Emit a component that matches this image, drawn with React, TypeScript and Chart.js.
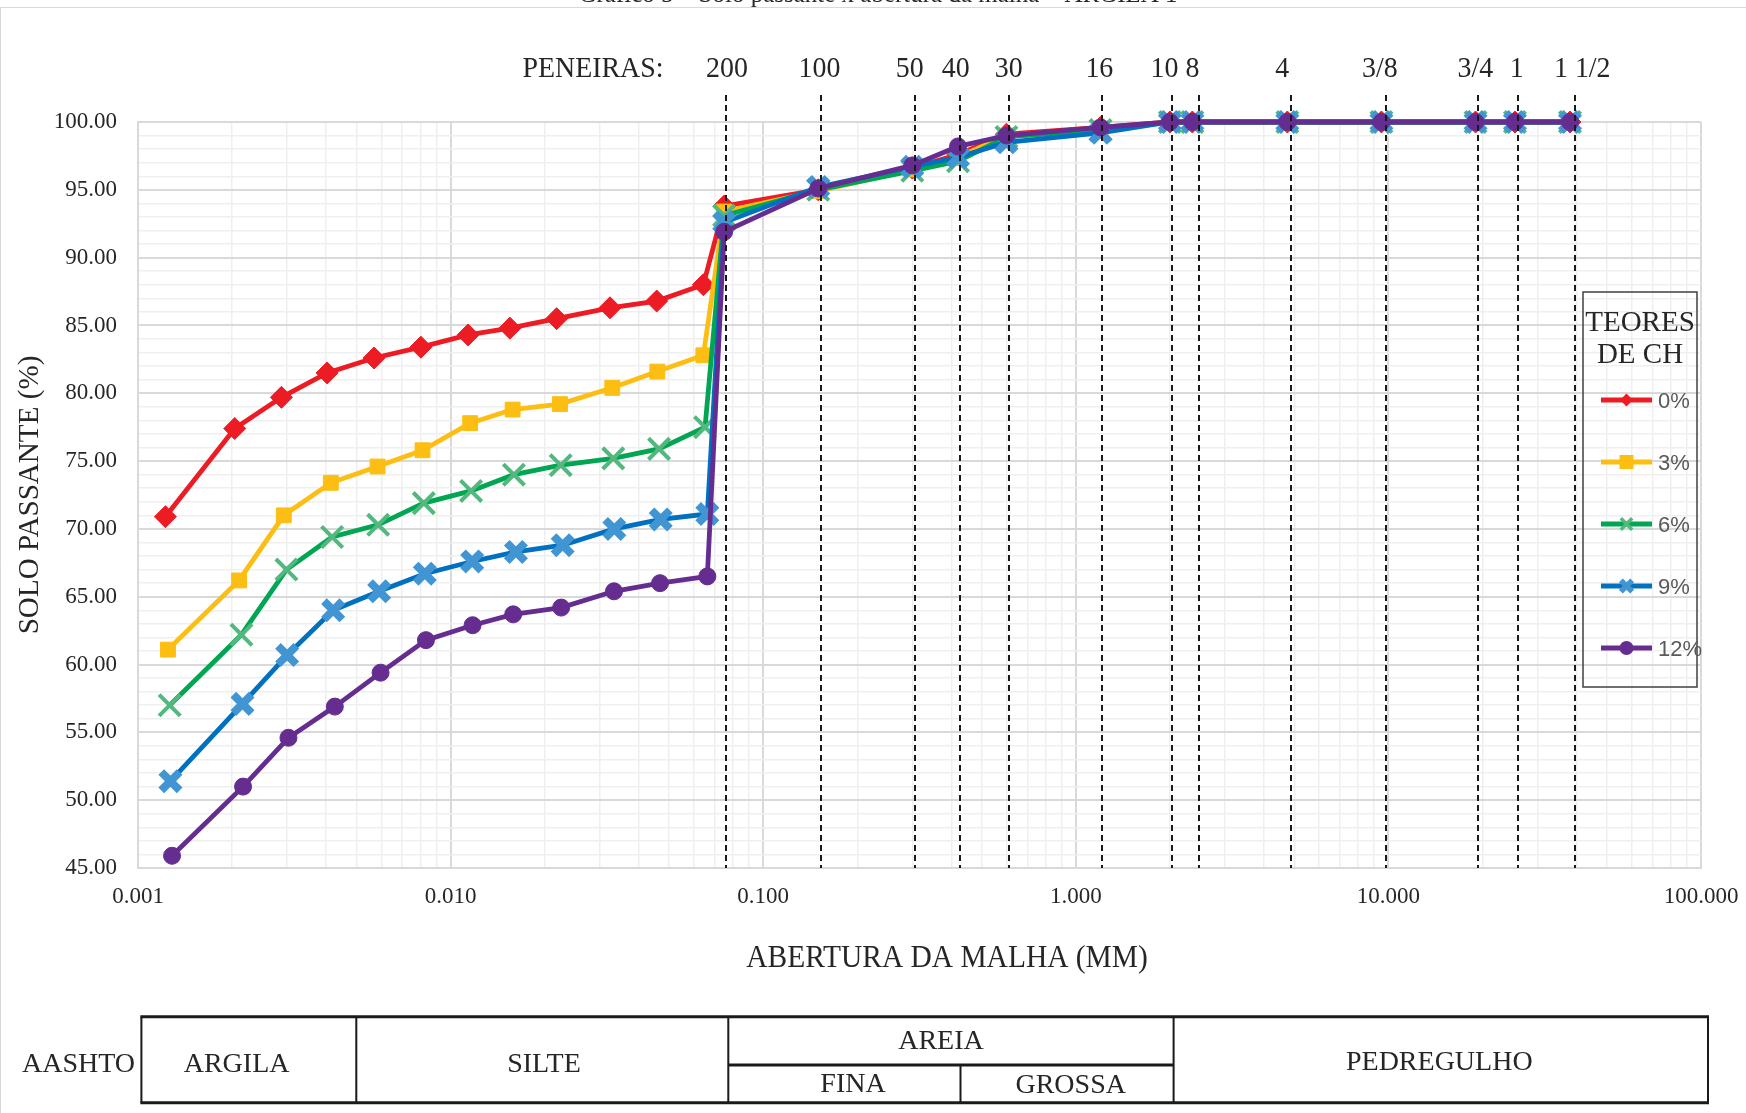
import React, { useEffect, useRef } from 'react';
import { Chart, registerables } from 'chart.js';

Chart.register(...registerables);

// ---------------- DATA ----------------
// sieve apertures (mm) where every series has a sieve value
const SIEVE_MM = [0.075, 0.15, 0.3, 0.42, 0.6, 1.2, 2.0, 2.36, 4.75, 9.5, 19.0, 25.4, 38.1];

// sedimentation diameters (mm) and % passing, one pair per CH content
const SED_0 = [0.001224, 0.002039, 0.002877, 0.004027, 0.005693, 0.008035, 0.01138, 0.01548, 0.02184, 0.03236, 0.04564, 0.06435];
const PASS_SED_0 = [70.9, 77.4, 79.7, 81.5, 82.6, 83.4, 84.3, 84.8, 85.5, 86.3, 86.8, 88.0];
const PASS_SIEVE_0 = [93.8, 95.0, 96.6, 97.6, 99.1, 99.6, 100, 100, 100, 100, 100, 100, 100];

const SED_3 = [0.001247, 0.002105, 0.002927, 0.004139, 0.005839, 0.00813, 0.01155, 0.01579, 0.02238, 0.0329, 0.04585, 0.06435];
const PASS_SED_3 = [61.1, 66.2, 71.0, 73.4, 74.6, 75.8, 77.8, 78.8, 79.2, 80.4, 81.6, 82.8];
const PASS_SIEVE_3 = [93.4, 94.9, 96.5, 97.4, 99.0, 99.5, 100, 100, 100, 100, 100, 100, 100];

const SED_6 = [0.001263, 0.002143, 0.002985, 0.004178, 0.005866, 0.00821, 0.01163, 0.01594, 0.0225, 0.03315, 0.04643, 0.06516];
const PASS_SED_6 = [57.0, 62.2, 67.0, 69.4, 70.3, 71.9, 72.8, 74.0, 74.7, 75.2, 75.9, 77.5];
const PASS_SIEVE_6 = [93.1, 95.0, 96.4, 97.1, 98.9, 99.4, 100, 100, 100, 100, 100, 100, 100];

const SED_9 = [0.00127, 0.002159, 0.003, 0.00421, 0.00591, 0.00827, 0.01172, 0.01618, 0.02283, 0.0334, 0.04701, 0.06627];
const PASS_SED_9 = [51.4, 57.1, 60.7, 64.0, 65.4, 66.7, 67.6, 68.3, 68.8, 70.0, 70.7, 71.1];
const PASS_SIEVE_9 = [92.6, 95.2, 96.7, 97.4, 98.5, 99.2, 100, 100, 100, 100, 100, 100, 100];

const SED_12 = [0.001285, 0.002168, 0.003029, 0.004262, 0.00597, 0.00834, 0.01176, 0.01586, 0.02258, 0.03332, 0.04677, 0.06627];
const PASS_SED_12 = [45.9, 51.0, 54.6, 56.9, 59.4, 61.8, 62.9, 63.7, 64.2, 65.4, 66.0, 66.5];
const PASS_SIEVE_12 = [91.9, 95.1, 96.8, 98.2, 99.0, 99.6, 100, 100, 100, 100, 100, 100, 100];

const SERIES_LABELS = ['0%', '3%', '6%', '9%', '12%'];

// sieve reference lines
const SIEVE_NAMES = ['200', '100', '50', '40', '30', '16', '10', '8', '4', '3/8', '3/4', '1', '1 1/2'];
const SIEVE_LINE_MM = [0.076, 0.1536, 0.3054, 0.4253, 0.61, 1.216, 2.03, 2.47, 4.89, 9.82, 19.4, 26.0, 39.6];

// axes
const X_DECADES = [0.001, 0.01, 0.1, 1, 10, 100];
const Y_MIN = 45;
const Y_MAX = 100;
const Y_LABEL_STEP = 5;

// ---------------- STYLES ----------------
const SERIES_STYLE = [
  { line: '#ED1C24', fill: '#ED1C24', stroke: '#ED1C24', shape: 'rectRot', r: 11, bw: 1 },
  { line: '#FDBE14', fill: '#FDBE14', stroke: '#FDBE14', shape: 'rect', r: 10.5, bw: 1 },
  { line: '#00A651', fill: 'rgba(0,0,0,0)', stroke: '#52B87D', shape: 'crossRot', r: 15, bw: 4 },
  { line: '#0070C0', fill: 'rgba(0,0,0,0)', stroke: '#4195D3', shape: 'crossRot', r: 13, bw: 8 },
  { line: '#662D91', fill: '#662D91', stroke: '#662D91', shape: 'circle', r: 8.5, bw: 1 },
];
const SIEVE_LABEL_DX = [1, -2, -5, -4, 0, -3, -7.5, -6, -9, -6, -3, -1.5, 7];

const SERIF = '"Liberation Serif", "Times New Roman", serif';
const SANS = '"Liberation Sans", Arial, sans-serif';
const TEXT = '#262626';

const isDecade = (v: number) => {
  const l = Math.log10(v);
  return Math.abs(l - Math.round(l)) < 1e-6;
};

function txt(ctx: CanvasRenderingContext2D, s: string, x: number, y: number, size: number,
  align: CanvasTextAlign = 'center', sx = 1, color = TEXT, family = SERIF) {
  ctx.save();
  ctx.font = `${size}px ${family}`;
  ctx.fillStyle = color;
  ctx.textAlign = align;
  ctx.textBaseline = 'alphabetic';
  ctx.translate(x, y);
  ctx.scale(sx, 1);
  ctx.fillText(s, 0, 0);
  ctx.restore();
}

function drawMarker(ctx: CanvasRenderingContext2D, st: any, x: number, y: number, r: number, lw: number) {
  ctx.save();
  ctx.beginPath();
  if (st.shape === 'rectRot') {
    ctx.moveTo(x, y - r); ctx.lineTo(x + r, y); ctx.lineTo(x, y + r); ctx.lineTo(x - r, y); ctx.closePath();
    ctx.fillStyle = st.fill; ctx.fill();
  } else if (st.shape === 'rect') {
    ctx.rect(x - r, y - r, 2 * r, 2 * r);
    ctx.fillStyle = st.fill; ctx.fill();
  } else if (st.shape === 'circle') {
    ctx.arc(x, y, r, 0, Math.PI * 2);
    ctx.fillStyle = st.fill; ctx.fill();
  } else {
    const d = r * Math.SQRT1_2;
    ctx.moveTo(x - d, y - d); ctx.lineTo(x + d, y + d);
    ctx.moveTo(x + d, y - d); ctx.lineTo(x - d, y + d);
    ctx.strokeStyle = st.stroke; ctx.lineWidth = lw; ctx.stroke();
  }
  ctx.restore();
}

const decorPlugin = {
  id: 'decor',
  beforeDraw(chart: any) {
    const ctx = chart.ctx;
    ctx.save();
    ctx.fillStyle = '#ffffff';
    ctx.fillRect(0, 0, chart.width, chart.height);
    ctx.restore();
  },
  afterDatasetsDraw(chart: any) {
    const ctx = chart.ctx;
    const xs = chart.scales.x;
    const area = chart.chartArea;
    ctx.save();
    ctx.strokeStyle = '#1a1a1a';
    ctx.lineWidth = 2;
    ctx.setLineDash([6, 4]);
    SIEVE_LINE_MM.forEach((mm) => {
      const px = Math.round(xs.getPixelForValue(mm));
      ctx.beginPath();
      ctx.moveTo(px, 95);
      ctx.lineTo(px, area.bottom);
      ctx.stroke();
    });
    ctx.restore();
  },
  afterDraw(chart: any) {
    const ctx = chart.ctx;
    const xs = chart.scales.x;
    const area = chart.chartArea;

    // frame of the figure (top rule + left edge)
    ctx.save();
    ctx.strokeStyle = '#d9d9d9';
    ctx.lineWidth = 1;
    ctx.beginPath();
    ctx.moveTo(0, 7.5); ctx.lineTo(chart.width, 7.5);
    ctx.moveTo(0.5, 7.5); ctx.lineTo(0.5, chart.height);
    ctx.stroke();
    ctx.restore();

    // clipped caption above the rule
    txt(ctx, 'Gráfico 5 – Solo passante x abertura da malha – ARGILA 1', 878, 2, 25);

    // sieve labels
    txt(ctx, 'PENEIRAS:', 593, 76.7, 30, 'center', 0.93);
    SIEVE_NAMES.forEach((n, i) => {
      const px = xs.getPixelForValue(SIEVE_LINE_MM[i]) + SIEVE_LABEL_DX[i];
      txt(ctx, n, px, 76.7, 30, 'center', 0.93);
    });

    // axis titles
    txt(ctx, 'ABERTURA DA MALHA (MM)', 947, 967, 31, 'center', 0.95);
    ctx.save();
    ctx.translate(38.3, (area.top + area.bottom) / 2);
    ctx.rotate(-Math.PI / 2);
    txt(ctx, 'SOLO PASSANTE (%)', 0, 0, 30, 'center', 0.97);
    ctx.restore();

    // legend
    const lx0 = 1583, lx1 = 1697, ly0 = 292, ly1 = 687;
    ctx.save();
    ctx.strokeStyle = '#404040';
    ctx.lineWidth = 1.5;
    ctx.strokeRect(lx0, ly0, lx1 - lx0, ly1 - ly0);
    ctx.restore();
    txt(ctx, 'TEORES', (lx0 + lx1) / 2, 330.7, 29);
    txt(ctx, 'DE CH', (lx0 + lx1) / 2, 363.3, 29);
    const legR = [6.5, 7, 8, 8, 7];
    const legLW = [1, 1, 3.5, 5.5, 1];
    SERIES_LABELS.forEach((lab, i) => {
      const st = SERIES_STYLE[i];
      const y = 400 + i * 62;
      ctx.save();
      ctx.strokeStyle = st.line;
      ctx.lineWidth = 5;
      ctx.beginPath();
      ctx.moveTo(1601, y); ctx.lineTo(1652, y);
      ctx.stroke();
      ctx.restore();
      drawMarker(ctx, st, 1626.5, y, legR[i], legLW[i]);
      txt(ctx, lab, 1658, y + 8, 22, 'left', 1, '#595959', SANS);
    });

    // AASHTO classification table
    const tTop = 1016.7, tMid = 1065, tBot = 1102.7;
    const cols = [141.4, 356.3, 728.3, 960.5, 1173.6, 1708];
    ctx.save();
    ctx.strokeStyle = '#1a1a1a';
    ctx.lineWidth = 3;
    ctx.beginPath();
    ctx.moveTo(cols[0] - 1, tTop); ctx.lineTo(cols[5] + 1, tTop);
    ctx.moveTo(cols[0] - 1, tBot); ctx.lineTo(cols[5] + 1, tBot);
    ctx.moveTo(cols[2], tMid); ctx.lineTo(cols[4], tMid);
    ctx.stroke();
    ctx.lineWidth = 2;
    ctx.beginPath();
    [0, 1, 2, 4, 5].forEach((k) => { ctx.moveTo(cols[k], tTop); ctx.lineTo(cols[k], tBot); });
    ctx.moveTo(cols[3], tMid); ctx.lineTo(cols[3], tBot);
    ctx.stroke();
    ctx.restore();

    txt(ctx, 'AASHTO', 78.5, 1071.5, 28);
    txt(ctx, 'ARGILA', 236.6, 1071.5, 28);
    txt(ctx, 'SILTE', 544, 1072, 28);
    txt(ctx, 'AREIA', 941, 1049, 28);
    txt(ctx, 'FINA', 853, 1091.5, 28);
    txt(ctx, 'GROSSA', 1070.7, 1093, 28);
    txt(ctx, 'PEDREGULHO', 1439.3, 1070, 28);
  },
};

function buildSeries(sed: number[], passSed: number[], passSieve: number[]) {
  return [
    ...sed.map((d, i) => ({ x: d, y: passSed[i] })),
    ...SIEVE_MM.map((d, i) => ({ x: d, y: passSieve[i] })),
  ];
}

export default function App() {
  const ref = useRef<HTMLCanvasElement | null>(null);

  useEffect(() => {
    if (!ref.current) return;
    const series = [
      buildSeries(SED_0, PASS_SED_0, PASS_SIEVE_0),
      buildSeries(SED_3, PASS_SED_3, PASS_SIEVE_3),
      buildSeries(SED_6, PASS_SED_6, PASS_SIEVE_6),
      buildSeries(SED_9, PASS_SED_9, PASS_SIEVE_9),
      buildSeries(SED_12, PASS_SED_12, PASS_SIEVE_12),
    ];
    const datasets = series.map((data, i) => {
      const st = SERIES_STYLE[i];
      return {
        label: SERIES_LABELS[i],
        data,
        borderColor: st.line,
        backgroundColor: st.line,
        borderWidth: 4.8,
        tension: 0,
        clip: false,
        pointStyle: st.shape as any,
        pointRadius: st.r,
        pointHoverRadius: st.r,
        pointBackgroundColor: st.fill,
        pointBorderColor: st.stroke,
        pointBorderWidth: st.bw,
        order: 5 - i,
      };
    });

    const xTicks: number[] = [];
    X_DECADES.forEach((d, i) => {
      if (i < X_DECADES.length - 1) {
        for (let k = 1; k <= 9; k++) xTicks.push(parseFloat((k * d).toPrecision(6)));
      } else xTicks.push(d);
    });
    const yTicks: number[] = [];
    for (let v = Y_MIN; v <= Y_MAX; v++) yTicks.push(v);

    const chart = new Chart(ref.current, {
      type: 'line',
      data: { datasets },
      plugins: [decorPlugin],
      options: {
        animation: false,
        responsive: false,
        devicePixelRatio: 1,
        layout: { padding: { top: 122, right: 45, bottom: 0, left: 0 } },
        plugins: { legend: { display: false }, tooltip: { enabled: false }, title: { display: false } },
        scales: {
          x: {
            type: 'logarithmic',
            min: X_DECADES[0],
            max: X_DECADES[X_DECADES.length - 1],
            afterBuildTicks: (scale: any) => { scale.ticks = xTicks.map((v) => ({ value: v })); },
            afterFit: (scale: any) => { scale.height = 245; scale.paddingLeft = 0; scale.paddingRight = 0; },
            border: { display: true, color: '#d9d9d9', width: 2 },
            grid: {
              drawTicks: false,
              color: (c: any) => (isDecade(c.tick.value) ? '#d9d9d9' : '#efefef'),
              lineWidth: (c: any) => (isDecade(c.tick.value) ? 2 : 1.5),
            },
            ticks: {
              autoSkip: false,
              maxRotation: 0,
              minRotation: 0,
              padding: 15,
              color: TEXT,
              font: { family: SERIF, size: 23 },
              callback: (v: any) => (isDecade(Number(v)) ? Number(v).toFixed(3) : ''),
            },
          },
          y: {
            type: 'linear',
            min: Y_MIN,
            max: Y_MAX,
            afterBuildTicks: (scale: any) => { scale.ticks = yTicks.map((v) => ({ value: v })); },
            afterFit: (scale: any) => { scale.width = 138; scale.paddingTop = 0; scale.paddingBottom = 0; },
            border: { display: true, color: '#d9d9d9', width: 2 },
            grid: {
              drawTicks: false,
              color: (c: any) => (Math.round(c.tick.value) % Y_LABEL_STEP === 0 ? '#d9d9d9' : '#efefef'),
              lineWidth: (c: any) => (Math.round(c.tick.value) % Y_LABEL_STEP === 0 ? 2 : 1.5),
            },
            ticks: {
              autoSkip: false,
              padding: 21,
              color: TEXT,
              font: { family: SERIF, size: 23 },
              callback: (v: any) => (Math.round(Number(v)) % Y_LABEL_STEP === 0 ? Number(v).toFixed(2) : ''),
            },
          },
        },
      } as any,
    });
    return () => chart.destroy();
  }, []);

  return (
    <div style={{ position: 'absolute', left: 0, top: 0, width: 1746, height: 1113, background: '#fff' }}>
      <canvas ref={ref} width={1746} height={1113} style={{ display: 'block', width: 1746, height: 1113 }} />
    </div>
  );
}
